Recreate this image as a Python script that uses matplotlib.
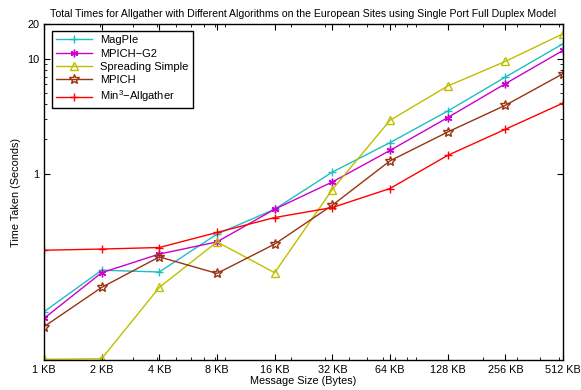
import numpy as np
import matplotlib
matplotlib.use("Agg")
import matplotlib.pyplot as plt
from matplotlib.ticker import FixedLocator, NullFormatter

plt.rcParams['font.family'] = ['Liberation Sans', 'DejaVu Sans']
plt.rcParams['mathtext.fontset'] = 'custom'
plt.rcParams['mathtext.rm'] = 'Liberation Sans'

# message sizes in KB
sizes_kb = [1, 2, 4, 8, 16, 32, 64, 128, 256, 512]
size_labels = ['1 KB', '2 KB', '4 KB', '8 KB', '16 KB', '32 KB', '64 KB', '128 KB', '256 KB', '512 KB']

magpie = [0.0626, 0.144, 0.139, 0.297, 0.489, 1.03, 1.86, 3.50, 6.92, 13.5]
mpich_g2 = [0.0548, 0.137, 0.199, 0.254, 0.489, 0.845, 1.59, 3.07, 6.06, 11.8]
spreading = [0.0241, 0.0244, 0.102, 0.254, 0.137, 0.726, 2.91, 5.78, 9.48, 16.5]
mpich = [0.0464, 0.102, 0.188, 0.135, 0.243, 0.530, 1.29, 2.30, 3.93, 7.41]
min3 = [0.215, 0.220, 0.227, 0.307, 0.414, 0.506, 0.741, 1.44, 2.43, 4.11]

x = np.array(sizes_kb) * 1024

fig = plt.figure(figsize=(5.81, 3.90), dpi=100)
ax = fig.add_axes([0.0757, 0.077, 0.8933, 0.861])

asterisk = (6, 2, 0)
ax.plot(x, magpie, color='#1cbfc4', marker='+', ms=6, lw=1, label='MagPIe')
ax.plot(x, mpich_g2, color='#cc00cc', marker=asterisk, ms=5.5, lw=1, label='MPICH\u2212G2')
ax.plot(x, spreading, color='#bfbf00', marker='^', ms=6, mfc='none', lw=1, label='Spreading Simple')
ax.plot(x, mpich, color='#993311', marker='*', ms=7, mfc='none', lw=1, label='MPICH')
ax.plot(x, min3, color='#ff0000', marker='+', ms=6, lw=1, label='Min$^3$\u2212Allgather')

ax.set_xscale('log')
ax.set_yscale('log')
ax.set_xlim(x[0], x[-1])
ax.set_ylim(0.0238, 20)

ax.xaxis.set_major_locator(FixedLocator(x))
ax.set_xticklabels(size_labels)
ax.xaxis.set_minor_formatter(NullFormatter())

ax.yaxis.set_major_locator(FixedLocator([1, 10, 20]))
ax.set_yticklabels(['1', '10', '20'])
ax.yaxis.set_minor_locator(FixedLocator([2, 3, 4, 5, 6, 7, 8, 9]))
ax.yaxis.set_minor_formatter(NullFormatter())

ax.tick_params(which='both', direction='in', top=True, right=True, labelsize=7.8)
ax.tick_params(which='major', length=4)
ax.tick_params(which='minor', length=2)
for s in ax.spines.values():
    s.set_linewidth(1)

ax.set_xlabel('Message Size (Bytes)', fontsize=7.8, labelpad=1)
ax.set_ylabel('Time Taken (Seconds)', fontsize=7.8, labelpad=4)
ax.set_title('Total Times for Allgather with Different Algorithms on the European Sites using Single Port Full Duplex Model',
             fontsize=7.6, pad=5)

leg = ax.legend(loc='upper left', fontsize=8, fancybox=False, framealpha=1,
                edgecolor='black', handlelength=3.2, borderpad=0.35, labelspacing=0.3,
                bbox_to_anchor=(0.005, 0.995))
leg.get_frame().set_linewidth(1)

fig.savefig('out.png', dpi=100)
